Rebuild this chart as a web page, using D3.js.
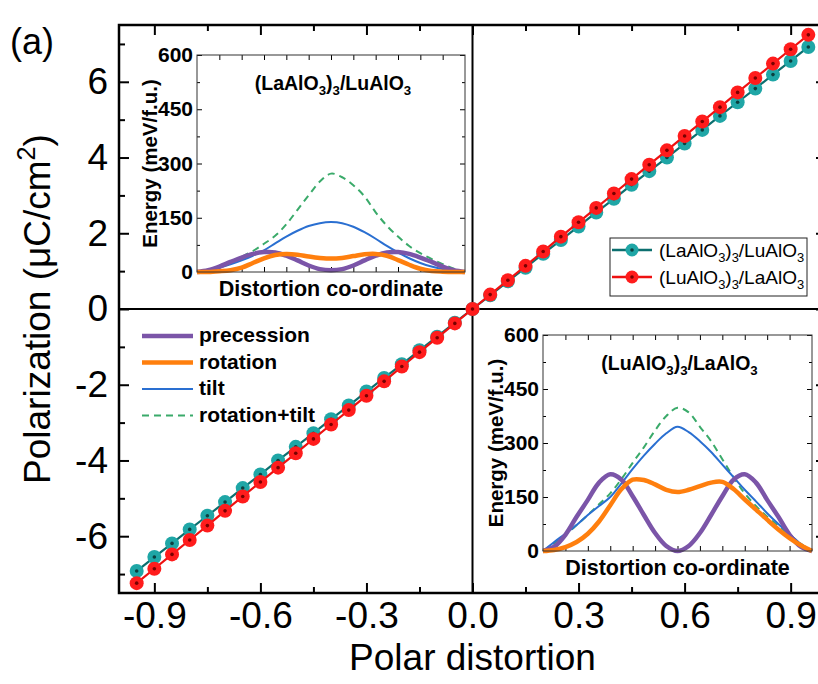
<!DOCTYPE html>
<html>
<head>
<meta charset="utf-8">
<script src="https://cdn.jsdelivr.net/npm/d3@7"></script>
<style>
  body { margin: 0; background: #fff; }
  svg { display: block; font-family: "Liberation Sans", Arial, sans-serif; }
</style>
</head>
<body>
<div id="chart"></div>
<script>

// ---- Main panel data: polarization vs polar distortion ----
var polarDistortion = [-0.95, -0.90, -0.85, -0.80, -0.75, -0.70, -0.65, -0.60, -0.55, -0.50,
    -0.45, -0.40, -0.35, -0.30, -0.25, -0.20, -0.15, -0.10, -0.05, 0.00,
    0.05, 0.10, 0.15, 0.20, 0.25, 0.30, 0.35, 0.40, 0.45, 0.50,
    0.55, 0.60, 0.65, 0.70, 0.75, 0.80, 0.85, 0.90, 0.95];

// (LaAlO3)3/LuAlO3
var polLaLu = [-6.92, -6.55, -6.19, -5.82, -5.46, -5.10, -4.73, -4.37, -4.00, -3.64,
    -3.28, -2.91, -2.55, -2.18, -1.82, -1.46, -1.09, -0.73, -0.36, 0.00,
    0.36, 0.73, 1.09, 1.46, 1.82, 2.18, 2.55, 2.91, 3.28, 3.64,
    4.00, 4.37, 4.73, 5.10, 5.46, 5.82, 6.19, 6.55, 6.92];

// (LuAlO3)3/LaAlO3
var polLuLa = [-7.24, -6.86, -6.48, -6.10, -5.72, -5.33, -4.95, -4.57, -4.19, -3.81,
    -3.43, -3.05, -2.67, -2.29, -1.91, -1.52, -1.14, -0.76, -0.38, 0.00,
    0.38, 0.76, 1.14, 1.52, 1.91, 2.29, 2.67, 3.05, 3.43, 3.81,
    4.19, 4.57, 4.95, 5.33, 5.72, 6.10, 6.48, 6.86, 7.24];

var xTickValues = [-0.9, -0.6, -0.3, 0.0, 0.3, 0.6, 0.9];
var yTickValues = [-6, -4, -2, 0, 2, 4, 6];

// ---- Inset data: energy (meV/f.u.) along the distortion co-ordinate ----
var coordinate = [0, 0.5, 1, 1.5, 2, 2.5, 3, 3.5, 4, 4.5, 5, 5.5, 6,
    6.5, 7, 7.5, 8, 8.5, 9, 9.5, 10, 10.5, 11, 11.5, 12];

// (LaAlO3)3/LuAlO3
var inset1Precession = [0, 5, 15, 28, 40, 50, 55, 54, 45, 32, 18, 8, 5, 8, 18, 32, 45, 54, 55, 50, 40, 28, 15, 5, 0];
var inset1Rotation   = [0, 0, 2, 5, 12, 25, 38, 47, 50, 48, 43, 39, 37, 39, 44, 49, 50, 45, 33, 20, 9, 3, 1, 0, 0];
var inset1Tilt       = [0, 5, 12, 21, 32, 45, 60, 79, 98, 114, 127, 135, 138, 135, 125, 110, 92, 72, 54, 38, 25, 15, 8, 3, 0];
var inset1RotTilt    = [0, 5, 14, 26, 42, 58, 78, 100, 132, 172, 212, 250, 272, 262, 240, 209, 165, 128, 98, 72, 52, 36, 22, 9, 0];

// (LuAlO3)3/LaAlO3
var inset2Precession = [0, 12, 45, 95, 142, 190, 213, 198, 152, 100, 50, 14, 0, 14, 50, 100, 152, 198, 213, 190, 142, 95, 45, 12, 0];
var inset2Rotation   = [0, 3, 11, 25, 48, 82, 127, 172, 198, 197, 185, 170, 164, 170, 180, 190, 192, 172, 143, 115, 87, 60, 36, 16, 0];
var inset2Tilt       = [0, 25, 48, 72, 100, 125, 150, 188, 228, 265, 298, 327, 345, 330, 305, 275, 240, 205, 170, 138, 105, 75, 47, 20, 0];
var inset2RotTilt    = [0, 22, 45, 72, 100, 130, 160, 200, 245, 288, 335, 375, 398, 385, 345, 305, 255, 205, 160, 125, 95, 70, 45, 20, 0];

var energyTicks = [0, 150, 300, 450, 600];
var modeNames = ["precession", "rotation", "tilt", "rotation+tilt"];
var modeColors = ["#7b55a8", "#ff7f0e", "#2a6fd1", "#3aaa6a"];
var modeWidths = [4.5, 4.5, 2, 2];
var modeDash = [null, null, null, "7,5"];

var seriesNames = [
    [["(LaAlO"], ["3", "sub"], [")"], ["3", "sub"], ["/LuAlO"], ["3", "sub"]],
    [["(LuAlO"], ["3", "sub"], [")"], ["3", "sub"], ["/LaAlO"], ["3", "sub"]]
];
var seriesFill = ["#1fa6a6", "#ff1c1c"];
var seriesLine = ["#0c6f6f", "#ee1111"];
var seriesCore = ["#0b3f3f", "#7a0000"];


var width = 818, height = 684;

var svg = d3.select("#chart").append("svg")
    .attr("width", width)
    .attr("height", height);

// text with sub/superscripts, shifts are in px of the base size
function addRichText(textSel, parts, fs) {
    var shift = 0;
    parts.forEach(function(p) {
        var target = p[1] === "sub" ? fs * 0.28 : (p[1] === "sup" ? -fs * 0.4 : 0);
        textSel.append("tspan")
            .attr("dy", target - shift)
            .attr("font-size", p[1] ? fs * 0.68 : fs)
            .text(p[0]);
        shift = target;
    });
}

// strip d3 axis defaults so our own styling applies
function styleAxis(g, fontSize, bold, tickWidth) {
    g.attr("font-family", null).attr("font-size", null);
    g.select(".domain").remove();
    g.selectAll(".tick line").attr("stroke", "#000").attr("stroke-width", tickWidth);
    g.selectAll(".tick text")
        .attr("fill", "#000")
        .attr("font-size", fontSize)
        .attr("font-weight", bold ? "bold" : null);
}

// ---------------- Main panel ----------------
var x = d3.scaleLinear().domain([-1, 1]).range([119, 826]);
var y = d3.scaleLinear().domain([-7.5, 7.5]).range([593, 25]);

var xMinor = d3.range(-0.75, 0.9, 0.3);
var yMinor = d3.range(-7, 8, 2);

svg.append("g")
    .attr("transform", "translate(0," + y(-7.5) + ")")
    .call(d3.axisBottom(x).tickValues(xTickValues).tickSize(-10).tickPadding(9)
        .tickFormat(function(d) { return d.toFixed(1); }))
    .call(styleAxis, 37, false, 2);
svg.append("g")
    .attr("transform", "translate(0," + y(-7.5) + ")")
    .call(d3.axisBottom(x).tickValues(xMinor).tickSize(-6).tickFormat(""))
    .call(styleAxis, 10, false, 2);
svg.append("g")
    .attr("transform", "translate(0," + y(7.5) + ")")
    .call(d3.axisTop(x).tickValues(xTickValues).tickSize(-10).tickFormat(""))
    .call(styleAxis, 10, false, 2);
svg.append("g")
    .attr("transform", "translate(0," + y(7.5) + ")")
    .call(d3.axisTop(x).tickValues(xMinor).tickSize(-6).tickFormat(""))
    .call(styleAxis, 10, false, 2);

svg.append("g")
    .attr("transform", "translate(" + x(-1) + ",0)")
    .call(d3.axisLeft(y).tickValues(yTickValues).tickSize(-10).tickPadding(11)
        .tickFormat(function(d) { return String(d); }))
    .call(styleAxis, 37, false, 2);
svg.append("g")
    .attr("transform", "translate(" + x(-1) + ",0)")
    .call(d3.axisLeft(y).tickValues(yMinor).tickSize(-6).tickFormat(""))
    .call(styleAxis, 10, false, 2);
svg.append("g")
    .attr("transform", "translate(" + x(1) + ",0)")
    .call(d3.axisRight(y).tickValues(yTickValues).tickSize(-10).tickFormat(""))
    .call(styleAxis, 10, false, 2);

// frame
svg.append("rect")
    .attr("x", x(-1)).attr("y", y(7.5))
    .attr("width", x(1) - x(-1)).attr("height", y(-7.5) - y(7.5))
    .attr("fill", "none").attr("stroke", "#000").attr("stroke-width", 2.5);

// zero lines
svg.append("line")
    .attr("x1", x(0)).attr("x2", x(0)).attr("y1", y(7.5)).attr("y2", y(-7.5))
    .attr("stroke", "#000").attr("stroke-width", 2);
svg.append("line")
    .attr("x1", x(-1)).attr("x2", x(1)).attr("y1", y(0)).attr("y2", y(0))
    .attr("stroke", "#000").attr("stroke-width", 2);

// axis titles
var yTitle = svg.append("text")
    .attr("transform", "translate(50," + y(0) + ") rotate(-90)")
    .attr("text-anchor", "middle")
    .attr("font-size", 37);
addRichText(yTitle, [["Polarization (\u03bcC/cm"], ["2", "sup"], [")"]], 37);

svg.append("text")
    .attr("x", x(0)).attr("y", 670)
    .attr("text-anchor", "middle")
    .attr("font-size", 37)
    .text("Polar distortion");

svg.append("text")
    .attr("x", 10).attr("y", 54)
    .attr("font-size", 36)
    .text("(a)");

// ---------------- Insets ----------------
function drawInset(left, top, w, h, series, titleParts) {
    var ix = d3.scaleLinear().domain([0, 12]).range([left, left + w]);
    var iy = d3.scaleLinear().domain([0, 600]).range([top + h, top]);
    var g = svg.append("g");

    g.append("rect")
        .attr("x", left).attr("y", top).attr("width", w).attr("height", h)
        .attr("fill", "#fff");

    var eMinor = d3.range(75, 600, 150);
    var uTicks = d3.range(1, 12, 1);

    g.append("g").attr("transform", "translate(" + left + ",0)")
        .call(d3.axisLeft(iy).tickValues(energyTicks).tickSize(-5).tickPadding(4))
        .call(styleAxis, 21, true, 1);
    g.append("g").attr("transform", "translate(" + left + ",0)")
        .call(d3.axisLeft(iy).tickValues(eMinor).tickSize(-3).tickFormat(""))
        .call(styleAxis, 10, false, 1);
    g.append("g").attr("transform", "translate(" + (left + w) + ",0)")
        .call(d3.axisRight(iy).tickValues(energyTicks).tickSize(-5).tickFormat(""))
        .call(styleAxis, 10, false, 1);
    g.append("g").attr("transform", "translate(" + (left + w) + ",0)")
        .call(d3.axisRight(iy).tickValues(eMinor).tickSize(-3).tickFormat(""))
        .call(styleAxis, 10, false, 1);
    g.append("g").attr("transform", "translate(0," + (top + h) + ")")
        .call(d3.axisBottom(ix).tickValues(uTicks).tickSize(-5).tickFormat(""))
        .call(styleAxis, 10, false, 1);
    g.append("g").attr("transform", "translate(0," + top + ")")
        .call(d3.axisTop(ix).tickValues(uTicks).tickSize(-5).tickFormat(""))
        .call(styleAxis, 10, false, 1);

    var curve = d3.line()
        .x(function(d, i) { return ix(coordinate[i]); })
        .y(function(d) { return iy(d); })
        .curve(d3.curveCatmullRom);

    // draw order: rotation+tilt, tilt, precession, rotation
    [3, 2, 0, 1].forEach(function(k) {
        g.append("path")
            .attr("d", curve(series[k]))
            .attr("fill", "none")
            .attr("stroke", modeColors[k])
            .attr("stroke-width", modeWidths[k])
            .attr("stroke-dasharray", modeDash[k]);
    });

    g.append("rect")
        .attr("x", left).attr("y", top).attr("width", w).attr("height", h)
        .attr("fill", "none").attr("stroke", "#333").attr("stroke-width", 1);

    var title = g.append("text")
        .attr("x", left + w / 2 + 2).attr("y", top + 35)
        .attr("text-anchor", "middle")
        .attr("font-weight", "bold");
    addRichText(title, titleParts, 19.5);

    g.append("text")
        .attr("transform", "translate(" + (left - 40) + "," + (top + h / 2) + ") rotate(-90)")
        .attr("text-anchor", "middle")
        .attr("font-weight", "bold")
        .attr("font-size", 20.5)
        .text("Energy (meV/f.u.)");

    g.append("text")
        .attr("x", left + w / 2).attr("y", top + h + 24)
        .attr("text-anchor", "middle")
        .attr("font-weight", "bold")
        .attr("font-size", 21.5)
        .text("Distortion co-ordinate");
}

drawInset(197, 55, 268, 217,
    [inset1Precession, inset1Rotation, inset1Tilt, inset1RotTilt], seriesNames[0]);
drawInset(543, 335, 269, 216,
    [inset2Precession, inset2Rotation, inset2Tilt, inset2RotTilt], seriesNames[1]);

// ---------------- Main data series ----------------
var polLine = d3.line()
    .x(function(d, i) { return x(polarDistortion[i]); })
    .y(function(d) { return y(d); });

[polLaLu, polLuLa].forEach(function(values, s) {
    var g = svg.append("g");
    g.append("path")
        .attr("d", polLine(values))
        .attr("fill", "none")
        .attr("stroke", seriesLine[s])
        .attr("stroke-width", 2.2);
    g.selectAll("circle.ball")
        .data(values)
        .enter().append("circle")
        .attr("class", "ball")
        .attr("cx", function(d, i) { return x(polarDistortion[i]); })
        .attr("cy", function(d) { return y(d); })
        .attr("r", 7)
        .attr("fill", seriesFill[s]);
    g.selectAll("circle.core")
        .data(values)
        .enter().append("circle")
        .attr("class", "core")
        .attr("cx", function(d, i) { return x(polarDistortion[i]); })
        .attr("cy", function(d) { return y(d); })
        .attr("r", 1.8)
        .attr("fill", seriesCore[s]);
});

// ---------------- Legends ----------------
// marker legend (top right)
var leg2 = svg.append("g");
leg2.append("rect")
    .attr("x", 610).attr("y", 238).attr("width", 197).attr("height", 58)
    .attr("fill", "#fff").attr("stroke", "#222").attr("stroke-width", 1);
seriesNames.forEach(function(parts, s) {
    var ly = 250 + s * 27;
    leg2.append("line")
        .attr("x1", 612).attr("x2", 652).attr("y1", ly).attr("y2", ly)
        .attr("stroke", seriesLine[s]).attr("stroke-width", 2.5);
    leg2.append("circle").attr("cx", 632).attr("cy", ly).attr("r", 6.5).attr("fill", seriesFill[s]);
    leg2.append("circle").attr("cx", 632).attr("cy", ly).attr("r", 1.8).attr("fill", seriesCore[s]);
    var t = leg2.append("text").attr("x", 659).attr("y", ly + 7);
    addRichText(t, parts, 19);
});

// mode legend (lower left)
var leg1 = svg.append("g");
modeNames.forEach(function(name, k) {
    var ly = 336 + k * 26.5;
    leg1.append("line")
        .attr("x1", 142).attr("x2", 193).attr("y1", ly).attr("y2", ly)
        .attr("stroke", modeColors[k])
        .attr("stroke-width", modeWidths[k])
        .attr("stroke-dasharray", modeDash[k]);
    leg1.append("text")
        .attr("x", 199).attr("y", ly + 6)
        .attr("font-weight", "bold")
        .attr("font-size", 21)
        .text(name);
});

</script>
</body>
</html>
